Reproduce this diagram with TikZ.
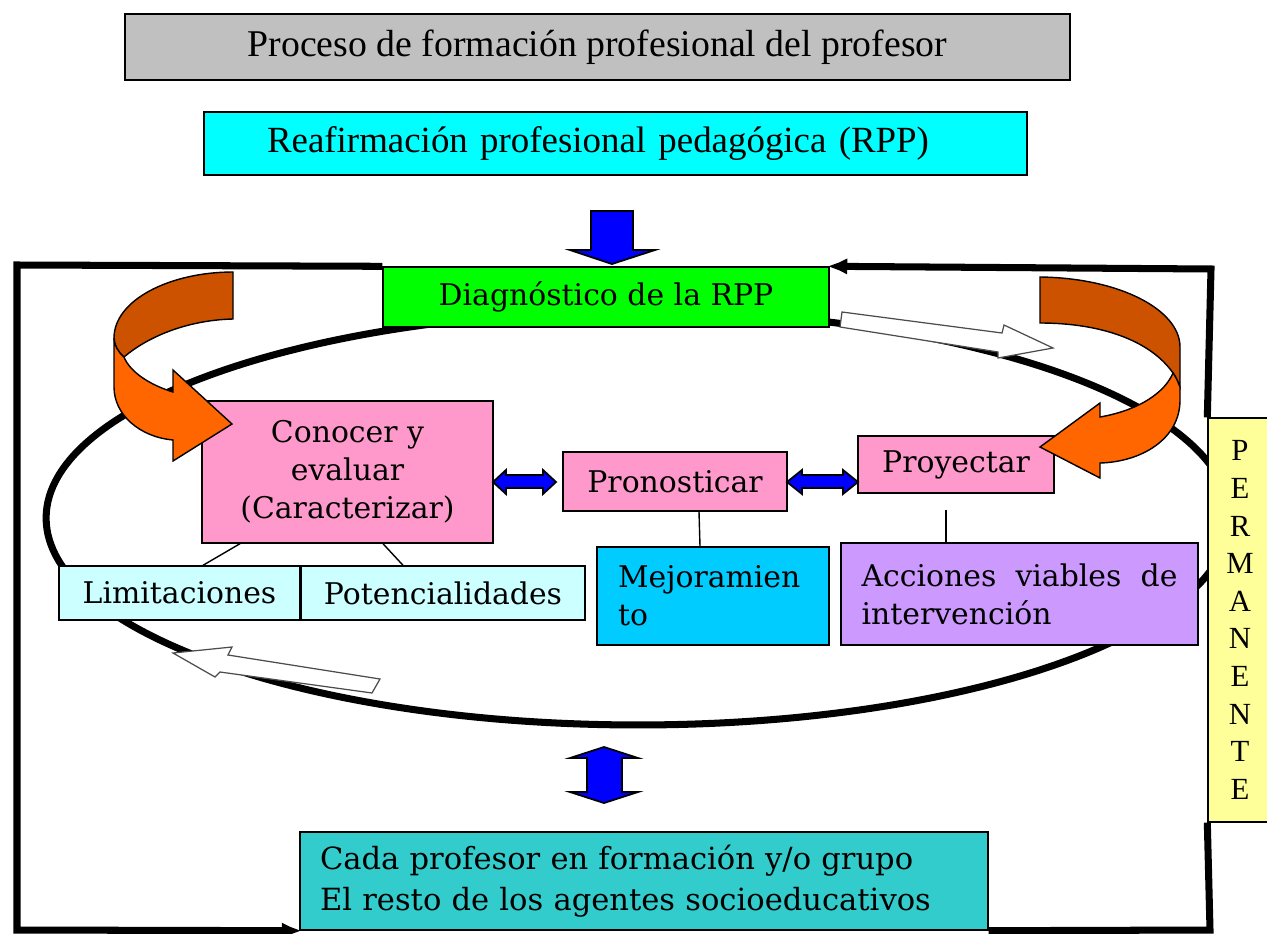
\documentclass[tikz,border=0pt]{standalone}
\usepackage{fontspec}
\setmainfont{DejaVu Serif}
\newfontfamily\timesfont{Liberation Serif}
\usepackage{tikz}
\usepackage{xcolor}
\usetikzlibrary{arrows.meta}
\pgfdeclarelayer{background}
\pgfsetlayers{background,main}
\definecolor{procgray}{HTML}{C0C0C0}
\definecolor{rppcyan}{HTML}{00FFFF}
\definecolor{diaggreen}{HTML}{00FF00}
\definecolor{rosa}{HTML}{FF99CC}
\definecolor{celeste}{HTML}{CCFFFF}
\definecolor{azul}{HTML}{00CCFF}
\definecolor{lila}{HTML}{CC99FF}
\definecolor{amarillo}{HTML}{FFFF99}
\definecolor{verdeazul}{HTML}{33CCCC}
\definecolor{naranja}{HTML}{FF6600}
\definecolor{marron}{HTML}{CC5200}

\begin{document}
\begin{tikzpicture}[x=0.02cm,y=-0.02cm]
			\useasboundingbox (0,0) rectangle (1267,933);
			\tikzstyle{box}=[draw=black,line width=0.8pt,inner sep=0pt,font=\fontsize{17}{21.5}\selectfont]
			\tikzstyle{frame}=[line width=4pt,line join=miter]
			\tikzstyle{frametip}=[-{Latex[length=20pt,width=8pt]},shorten >=-10pt]
			\tikzstyle{bluearrow}=[fill=blue,draw=black,line width=1pt]
			\tikzstyle{hollow}=[fill=white,draw=black!70,line width=0.7pt]
			\tikzstyle{ribbon}=[draw=black,line width=0.8pt]
			\tikzstyle{thin}=[line width=0.8pt]
			\node[box,fill=procgray,font=\timesfont\fontsize{21.5}{25}\selectfont,minimum width=18.9cm,minimum height=1.32cm] (proceso) at (597.5,47) {Proceso de formación profesional del profesor};
			\node[box,fill=rppcyan,font=\timesfont\fontsize{21}{25}\selectfont,minimum width=16.46cm,minimum height=1.26cm,text width=13.94cm,align=left] (rpp) at (615.5,143.5) {Reafirmación profesional pedagógica (RPP)};
			\node[box,fill=diaggreen,minimum width=8.92cm,minimum height=1.2cm] (diag) at (606,297) {Diagnóstico de la RPP};
			\node[box,fill=rosa,minimum width=5.82cm,minimum height=2.84cm,align=center] (conocer) at (347.5,472) {Conocer y\\evaluar\\(Caracterizar)};
			\node[box,fill=rosa,minimum width=4.48cm,minimum height=1.18cm] (pron) at (675,481.5) {Pronosticar};
			\node[box,fill=rosa,minimum width=3.92cm,minimum height=1.14cm] (proy) at (956,464.5) {Proyectar};
			\node[box,fill=celeste,minimum width=4.82cm,minimum height=1.08cm] (limit) at (179.5,593) {Limitaciones};
			\node[box,fill=celeste,minimum width=5.68cm,minimum height=1.08cm] (poten) at (443,593) {Potencialidades};
			\node[box,fill=azul,minimum width=4.64cm,minimum height=1.96cm,text width=3.8cm,align=left] (mejor) at (713,596) {Mejoramien\\to};
			\node[box,fill=lila,minimum width=7.14cm,minimum height=2.04cm,text width=6.32cm,align=left] (acc) at (1019.5,594) {\hbox to 6.32cm{Acciones\hfill viables\hfill de}\\intervención};
			\node[box,fill=verdeazul,font=\fontsize{17.4}{23}\selectfont,minimum width=13.76cm,minimum height=1.96cm,text width=12.96cm,align=left] (cada) at (644,881) {Cada profesor en formación y/o grupo\\El resto de los agentes socioeducativos};
			\node[box,fill=amarillo,font=\timesfont\fontsize{17.5}{21.4}\selectfont,minimum width=1.28cm,minimum height=8.08cm,align=center] (perm) at (1240,620) {P\\E\\R\\M\\A\\N\\E\\N\\T\\E};
			\coordinate (ftl) at (17,265);
			\coordinate (fbl) at (17,930);
			\coordinate (fbr) at (1210,930);
			\coordinate (ftr) at (1211,269);
			\coordinate (proyfoot) at (946,510);
			\begin{pgfonlayer}{background}
				\draw[frame,frametip] (diag.north west) -- (ftl) -- (fbl) -- (cada.south west);
				\draw[frame] (cada.south east) -- (fbr) -- (perm.south west);
				\draw[frame,frametip] (perm.north west) -- (ftr) -- (diag.north east);
				\draw[line width=4pt] (638,518) ellipse [x radius=11.84cm,y radius=4.14cm];
				\filldraw[hollow] (842,312) -- (1002,333) -- (1004,325) -- (1053,348) -- (998,358) -- (998,352) -- (840,327) -- cycle;
				\filldraw[hollow] (173,653) -- (232,647) -- (228,655) -- (380,679) -- (372,693) -- (220,672) -- (215,677) -- cycle;
			\end{pgfonlayer}
			\filldraw[ribbon,fill=marron] (233,272) .. controls (170,272) and (114,300) .. (114,338) .. controls (114,345) and (118,352) .. (124,357) .. controls (150,335) and (190,320) .. (233,319) -- cycle;
			\filldraw[ribbon,fill=naranja] (114,338) -- (114,387) .. controls (114,415) and (140,437) .. (173,440) -- (173,461) -- (232,424) -- (173,370) -- (173,392) .. controls (150,385) and (130,372) .. (124,357) .. controls (118,352) and (114,345) .. (114,338) -- cycle;
			\filldraw[ribbon,fill=marron] (1040,277) .. controls (1120,278) and (1180,310) .. (1180,347) -- (1180,387) .. controls (1178,382) and (1176,377) .. (1173,373) .. controls (1150,340) and (1100,323) .. (1040,323) -- cycle;
			\filldraw[ribbon,fill=naranja] (1180,387) -- (1180,400) .. controls (1180,440) and (1140,462) .. (1100,463) -- (1100,478) -- (1040,447) -- (1100,403) -- (1100,417) .. controls (1140,410) and (1165,392) .. (1173,373) .. controls (1176,377) and (1178,382) .. (1180,387) -- cycle;
			\filldraw[bluearrow] (591,211) -- (633,211) -- (633,250) -- (655,250) -- (612,264) -- (570,250) -- (591,250) -- cycle;
			\filldraw[bluearrow] (493,482) -- (506,470) -- (506,475) -- (543,475) -- (543,470) -- (556,482) -- (543,494) -- (543,488) -- (506,488) -- (506,494) -- cycle;
			\filldraw[bluearrow] (787,482) -- (802,470) -- (802,475) -- (843,475) -- (843,470) -- (858,482) -- (843,494) -- (843,488) -- (802,488) -- (802,494) -- cycle;
			\filldraw[bluearrow] (604,747) -- (638,758) -- (622,758) -- (622,792) -- (638,792) -- (604,803) -- (570,792) -- (587,792) -- (587,758) -- (570,758) -- cycle;
			\draw[thin] (240,0 |- conocer.south) -- (203,0 |- limit.north);
			\draw[thin] (383,0 |- conocer.south) -- (403,0 |- poten.north);
			\draw[thin] (699,0 |- pron.south) -- (700,0 |- mejor.north);
			\draw[thin] (proyfoot) -- (946,0 |- acc.north);
		\end{tikzpicture}
\end{document}
